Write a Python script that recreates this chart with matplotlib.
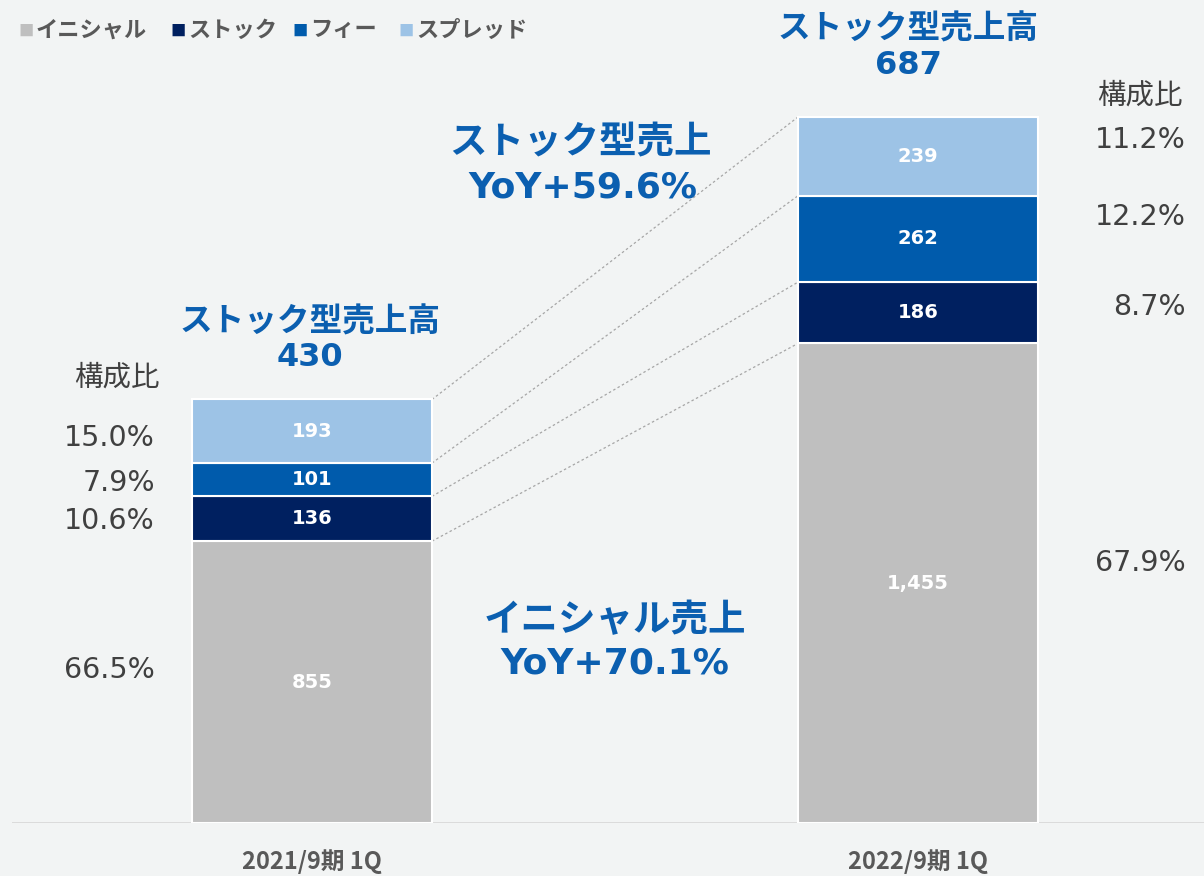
import matplotlib.pyplot as plt
import numpy as np

plt.rcParams['font.family'] = ['Noto Sans CJK JP', 'DejaVu Sans']

categories = ['2021/9期 1Q', '2022/9期 1Q']
series = ['イニシャル', 'ストック', 'フィー', 'スプレッド']
initial = [855, 1455]
stock = [136, 186]
fee = [101, 262]
spread = [193, 239]
stock_total = [430, 687]
yoy_stock = '+59.6%'
yoy_initial = '+70.1%'

colors = ['#bfbfbf', '#002060', '#005bac', '#9dc3e6']
blue_txt = '#0b5fb0'
gray_txt = '#595959'
dark_txt = '#404040'
bg = '#f2f4f4'
latin = ['DejaVu Sans', 'Noto Sans CJK JP']

W, H = 1204, 876
fig = plt.figure(figsize=(W / 100, H / 100), dpi=100, facecolor=bg)
# axes: baseline at y=823px, bar centers at 312px and 918px
ax = fig.add_axes([12 / W, (H - 823) / H, 1192 / W, 823 / H])
ax.set_facecolor(bg)
ppu = 0.3296  # pixels per unit
ax.set_ylim(0, 823 / ppu)
ax.set_xlim((12 - 312) / 606, (1204 - 312) / 606)
for s in ax.spines.values():
    s.set_visible(False)
ax.set_xticks([])
ax.set_yticks([])
ax.axhline(0, color='#d9d9d9', lw=2, zorder=1)

x = np.arange(len(categories))
bw = 240 / 606
data = [initial, stock, fee, spread]
bottom = np.zeros(len(categories))
for vals, c in zip(data, colors):
    ax.bar(x, vals, bw, bottom=bottom, color=c, edgecolor='white', linewidth=1.5, zorder=2)
    for i, v in enumerate(vals):
        ax.text(x[i], bottom[i] + v / 2, f'{v:,}', ha='center', va='center',
                color='white', fontsize=14, fontweight='bold', family=latin, zorder=3)
    bottom = bottom + np.array(vals)

# connector lines between segment boundaries
cum = np.cumsum(np.array(data), axis=0)
for k in range(4):
    ax.plot([x[0] + bw / 2, x[1] - bw / 2], [cum[k][0], cum[k][1]],
            ls=(0, (2, 2)), color='#a6a6a6', lw=0.9, zorder=1)

totals = cum[-1]

def px(xp, yp):
    return xp / W, 1 - yp / H

# composition ratios
pct_y = [[670, 521, 483, 438], [563, 307, 217, 140]]
pct_x = [155, 1186]
for i in range(2):
    for k in range(4):
        p = data[k][i] / totals[i] * 100
        fig.text(*px(pct_x[i], pct_y[i][k]), f'{p:.1f}%', ha='right', va='center',
                 color=dark_txt, fontsize=20.5, family=latin)
fig.text(*px(117, 378), '構成比', ha='center', va='center', color=dark_txt, fontsize=20.5)
fig.text(*px(1140, 96), '構成比', ha='center', va='center', color=dark_txt, fontsize=20.5)

# stock totals
fig.text(*px(310, 322), 'ストック型売上高', ha='center', va='center',
         color=blue_txt, fontsize=23.5, fontweight='bold')
fig.text(*px(310, 358), f'{stock_total[0]}', ha='center', va='center',
         color=blue_txt, fontsize=23, fontweight='bold', family=latin)
fig.text(*px(908, 29), 'ストック型売上高', ha='center', va='center',
         color=blue_txt, fontsize=23.5, fontweight='bold')
fig.text(*px(908, 66), f'{stock_total[1]}', ha='center', va='center',
         color=blue_txt, fontsize=23, fontweight='bold', family=latin)

# YoY callouts
fig.text(*px(580, 142), 'ストック型売上', ha='center', va='center',
         color=blue_txt, fontsize=27, fontweight='bold')
fig.text(*px(583, 187), f'YoY{yoy_stock}', ha='center', va='center',
         color=blue_txt, fontsize=26, fontweight='bold', family=latin)
fig.text(*px(615, 620), 'イニシャル売上', ha='center', va='center',
         color=blue_txt, fontsize=27, fontweight='bold')
fig.text(*px(615, 664), f'YoY{yoy_initial}', ha='center', va='center',
         color=blue_txt, fontsize=26, fontweight='bold', family=latin)

# category labels
for i, c in enumerate(categories):
    fig.text(*px(312 + 606 * i, 862), c, ha='center', va='center',
             color=gray_txt, fontsize=17, fontweight='bold')

# legend
lx = [18, 170, 292, 398]
for k, name in enumerate(series):
    fig.text(*px(lx[k], 31), '■', ha='left', va='center', color=colors[k], fontsize=11)
    fig.text(*px(lx[k] + 18, 30), name, ha='left', va='center', color=gray_txt,
             fontsize=16, fontweight='bold')

fig.savefig('out.png', dpi=100, facecolor=bg)
